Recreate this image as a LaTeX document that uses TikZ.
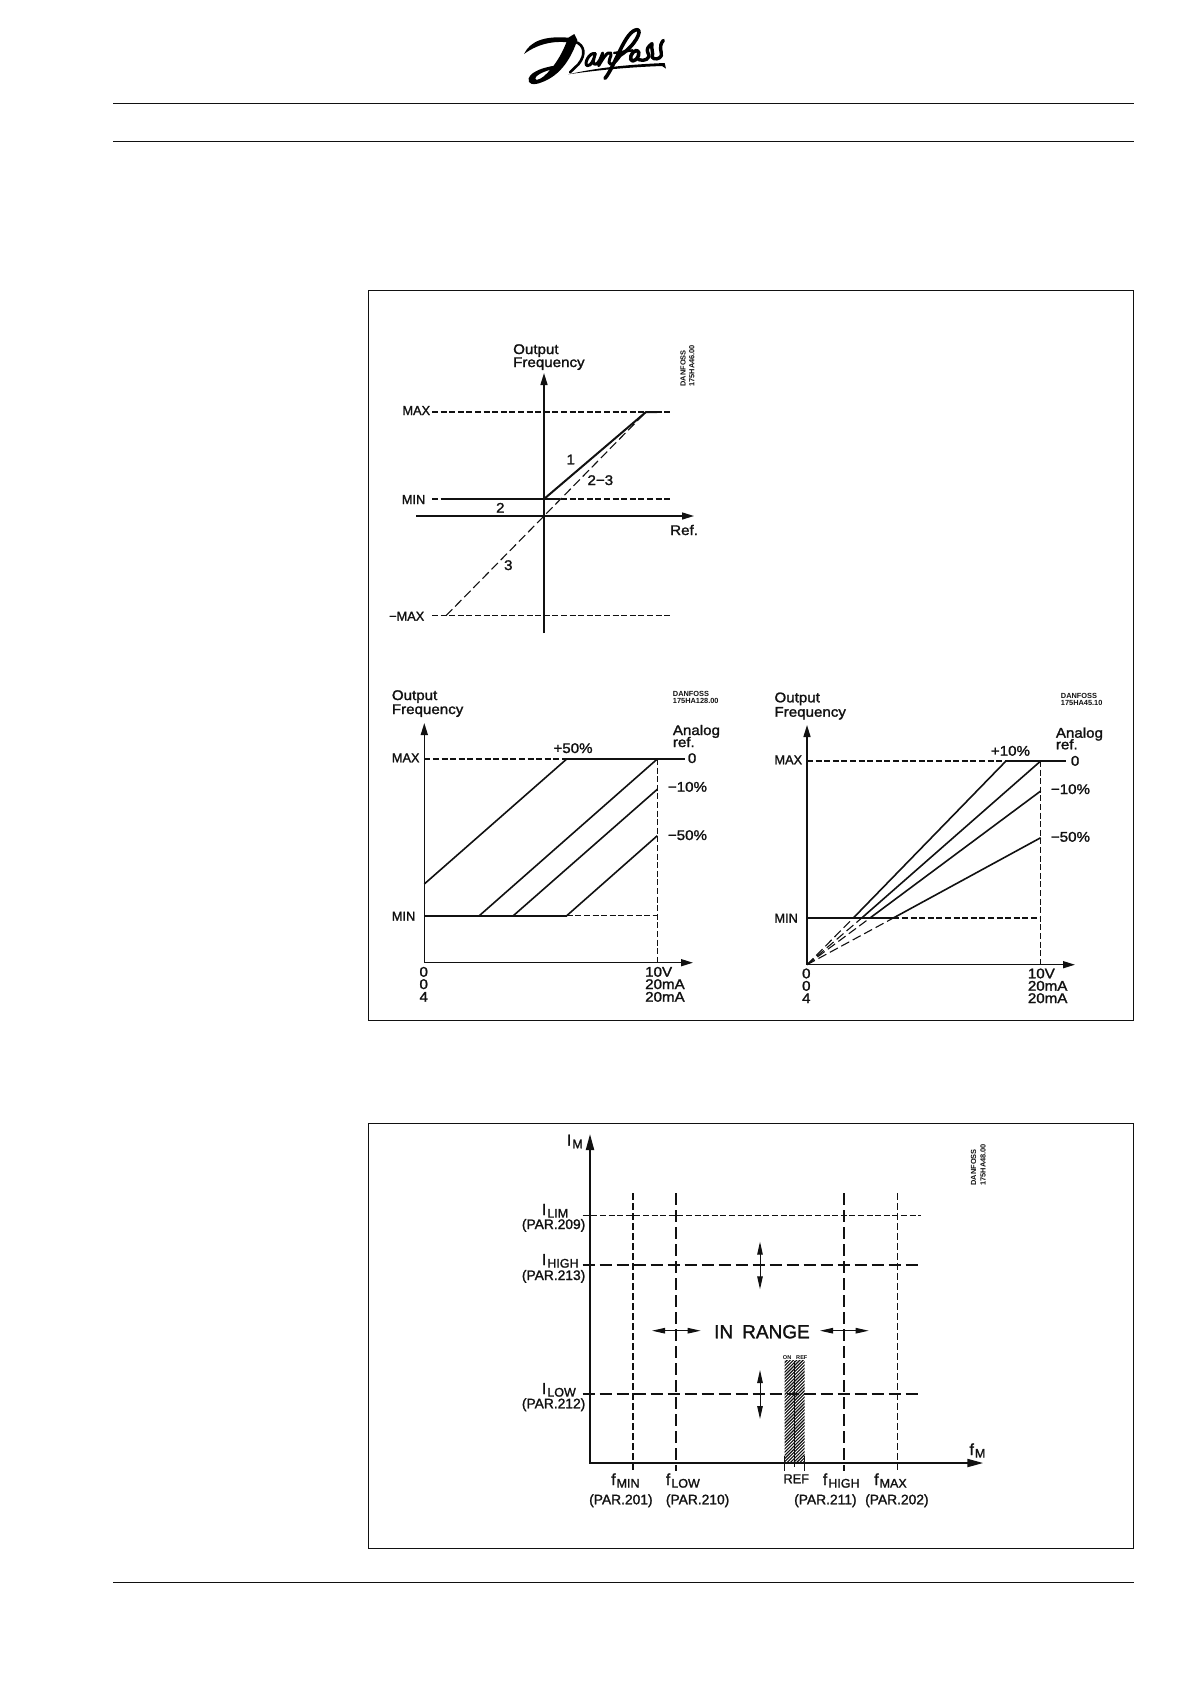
\documentclass[tikz,border=0pt]{standalone}
\usepackage{fontspec}
\usetikzlibrary{arrows.meta}
\newfontfamily\cad[FakeBold=1.5,FakeStretch=1.08]{Liberation Sans}
\newfontfamily\cadu[FakeBold=1.5]{Liberation Sans}
\newfontfamily\cadn[FakeBold=1.5,FakeStretch=0.98]{Liberation Sans}
\newfontfamily\cadb{Liberation Sans Bold}
\newcommand\fz[1]{\fontsize{#1}{#1}\selectfont}
\newcommand\subl[2]{{\fz{16}#1}\kern1pt\raisebox{-2.6pt}{\fz{12.5}#2}}
\definecolor{ink}{HTML}{111111}
\tikzset{
 lab/.style={anchor=base west,inner sep=0pt,text=ink,font=\cad\fz{14}},
 labm/.style={lab,anchor=base,font=\cad\fz{14}},
 up/.style={lab,font=\cadn\fz{13}},
 par/.style={lab,font=\cadu\fz{13.8}},
 sublab/.style={lab,font=\cadu\fz{16}},
 code/.style={lab,font=\cadb\fz{7.4}},
 rcode/.style={code,rotate=90},
 rule/.style={draw=ink,line width=0.9pt},
 ax/.style={draw=ink,line width=1.5pt,-{Stealth[inset=0pt,length=12pt,width=7pt]}},
 thk/.style={draw=ink,line width=2pt},
 sol/.style={draw=ink,line width=1.6pt},
 dsh/.style={draw=ink,line width=1.1pt,dash pattern=on 6pt off 2.6pt},
 dshb/.style={draw=ink,line width=1.5pt,dash pattern=on 6pt off 2.6pt},
 ldsh/.style={draw=ink,line width=1.1pt,dash pattern=on 9pt off 4pt},
 axb/.style={draw=ink,line width=2pt,-{Stealth[inset=0pt,length=16pt,width=8pt]}},
 lng/.style={draw=ink,line width=1.8pt,dash pattern=on 12pt off 5pt},
 sht/.style={draw=ink,line width=1.5pt,dash pattern=on 7pt off 3pt},
 dbl/.style={draw=ink,line width=1pt,{Stealth[inset=0pt,length=13pt,width=5.5pt]}-{Stealth[inset=0pt,length=13pt,width=5.5pt]}},
 logo/.style={draw=black,line cap=round,line join=round}
}
\begin{document}
\begin{tikzpicture}[x=1pt,y=-1pt]
\useasboundingbox[fill=white] (0,0) rectangle (1190,1684);
% page rules
\draw[rule] (113,103) -- (1133.5,103);
\draw[rule] (113,141) -- (1133.5,141);
\draw[rule] (113,1582) -- (1133.5,1582);
\draw[rule] (368.5,290) rectangle (1133,1020);
\draw[rule] (368.5,1123.5) rectangle (1133,1548);
% logo
\begin{scope}[shift={(520,25)},scale=0.33333]
% top swoosh
\fill[black] (12,87) .. controls (30,50) and (70,32) .. (145,38) -- (163,27) -- (172,45) -- (160,54) .. controls (110,46) and (60,52) .. (12,87) -- cycle;
% stem and lower loop
\fill[black] (172,45) .. controls (155,95) and (125,150) .. (65,172) .. controls (40,182) and (22,178) .. (26,160) .. controls (32,140) and (75,123) .. (125,120) -- (125,128) .. controls (85,132) and (48,148) .. (46,160) .. controls (45,167) and (58,165) .. (70,155) .. controls (100,130) and (125,90) .. (140,50) -- cycle;
% bowl
\draw[logo,line width=2.6pt] (165,50) .. controls (195,60) and (198,90) .. (175,118) -- (150,142);
% a n
\draw[logo,line width=3pt] (226,86) .. controls (208,80) and (190,118) .. (202,122) .. controls (214,124) and (222,102) .. (226,86) .. controls (220,105) and (216,118) .. (226,118) .. controls (236,116) and (242,100) .. (248,84) .. controls (244,100) and (240,110) .. (236,122) .. controls (248,102) and (262,78) .. (272,84) .. controls (278,92) and (258,114) .. (272,118) .. controls (282,118) and (292,104) .. (302,90);
% f
\draw[logo,line width=3.6pt] (255,160) .. controls (285,125) and (315,15) .. (352,14) .. controls (368,16) and (345,62) .. (302,90);
\draw[logo,line width=2.4pt] (282,84) -- (338,76);
% o
\draw[logo,line width=3.6pt] (350,76) .. controls (332,78) and (326,108) .. (338,108) .. controls (354,108) and (364,78) .. (350,76);
% s s
\draw[logo,line width=3.4pt] (356,104) .. controls (372,110) and (394,102) .. (384,84) .. controls (378,74) and (384,64) .. (396,56);
\draw[logo,line width=3.4pt] (396,56) .. controls (392,70) and (402,84) .. (396,96) .. controls (402,106) and (420,102) .. (424,92) .. controls (426,78) and (414,66) .. (430,46);
% underline
\fill[black] (145,148) .. controls (240,126) and (340,118) .. (434,114) -- (438,131) -- (426,123) .. controls (340,126) and (240,134) .. (145,148) -- cycle;
\end{scope}

% chart 1
\draw[ax] (416,516) -- (694,516);
\draw[ax] (544,633) -- (544,373);
\draw[dsh] (432,412) -- (672,412);
\draw[dsh] (432,499) -- (672,499);
\draw[dsh] (432,615.7) -- (672,615.7);
\draw[ldsh] (446,615.7) -- (544,516) -- (646,412);
\draw[thk] (445,499) -- (560,499);
\draw[thk] (544,499) -- (646,412) -- (657,412);
\node[lab] (c1o) at (513,354) {Output};
\node[lab] (c1f) at (513,367) {Frequency};
\node[rcode] (c1d) at (685.7,386.7) {DANFOSS};
\node[rcode] (c1n) at (694.3,386.7) {175HA46.00};
\node[up] (c1max) at (402.3,415) {MAX};
\node[up] (c1min) at (401.7,504) {MIN};
\node[up] (c1nmax) at (389,620.7) {−MAX};
\node[labm] (c1a) at (570.7,464.3) {1};
\node[lab] (c1b) at (587.3,485) {2−3};
\node[labm] (c1c) at (500.3,512.7) {2};
\node[labm] (c1e) at (508.3,570) {3};
\node[lab] (c1r) at (670,535) {Ref.};

% chart 2
\draw[dshb] (657.3,759) -- (657.3,963);
\draw[dsh] (566.7,915.7) -- (657.3,915.7);
\draw[dshb] (424.3,759) -- (566.7,759);
\draw[ax] (424.3,963) -- (424.3,723);
\draw[ax] (424.3,962.7) -- (693,962.7);
\draw[thk] (566.7,759) -- (685,759);
\draw[thk] (424.3,915.7) -- (566.7,915.7);
\draw[sol] (424.3,884) -- (566.7,759);
\draw[sol] (479.3,915.7) -- (657.3,759);
\draw[sol] (513.3,915.7) -- (657.3,789.3);
\draw[sol] (566.7,915.7) -- (657.3,835.7);
\node[lab] (c2o) at (391.7,700) {Output};
\node[lab] (c2f) at (391.7,714) {Frequency};
\node[up] (c2max) at (391.7,762.3) {MAX};
\node[up] (c2min) at (391.7,920.7) {MIN};
\node[lab] (c2p) at (553.3,753) {+50\%};
\node[lab] (c2an) at (672.7,735) {Analog};
\node[lab] (c2rf) at (672.7,747) {ref.};
\node[lab] (c2z) at (687.7,763) {0};
\node[lab] (c2m1) at (667.7,791.7) {−10\%};
\node[lab] (c2m5) at (667.7,840) {−50\%};
\node[labm] (c2x0) at (423.7,976.7) {0};
\node[labm] (c2x1) at (423.7,989) {0};
\node[labm] (c2x2) at (423.7,1001.7) {4};
\node[lab] (c2v) at (645,976.7) {10V};
\node[lab] (c2ma) at (645,989) {20mA};
\node[lab] (c2mb) at (645,1001.7) {20mA};
\node[code] (c2d) at (672.7,696) {DANFOSS};
\node[code] (c2n) at (672.7,703.3) {175HA128.00};

% chart 3
\draw[dsh] (1040.7,761) -- (1040.7,964.7);
\draw[dsh] (893.3,918) -- (1040.7,918);
\draw[dsh] (807,761) -- (1006,761);
\draw[ax] (807,964.7) -- (807,725);
\draw[ax] (807,964.7) -- (1075,964.7);
\draw[thk] (1006,761) -- (1066,761);
\draw[thk] (807,918) -- (893.3,918);
\draw[sol] (853.3,918) -- (1006,761);
\draw[sol] (861.7,918) -- (1040.7,761);
\draw[sol] (870,918) -- (1040.7,791);
\draw[sol] (893.3,918) -- (1040.7,837.7);
\draw[ldsh] (807,964.7) -- (853.3,918);
\draw[ldsh] (807,964.7) -- (861.7,918);
\draw[ldsh] (807,964.7) -- (870,918);
\draw[ldsh] (807,964.7) -- (893.3,918);
\node[lab] (c3o) at (774.3,702.3) {Output};
\node[lab] (c3f) at (774.3,716.7) {Frequency};
\node[up] (c3max) at (774.3,764.3) {MAX};
\node[up] (c3min) at (774.3,922.7) {MIN};
\node[lab] (c3p) at (990.7,755.7) {+10\%};
\node[lab] (c3an) at (1055.7,737.7) {Analog};
\node[lab] (c3rf) at (1055.7,749.3) {ref.};
\node[lab] (c3z) at (1070.7,765.7) {0};
\node[lab] (c3m1) at (1050.7,794) {−10\%};
\node[lab] (c3m5) at (1050.7,841.7) {−50\%};
\node[labm] (c3x0) at (806.3,978.3) {0};
\node[labm] (c3x1) at (806.3,990.7) {0};
\node[labm] (c3x2) at (806.3,1003) {4};
\node[lab] (c3v) at (1027.7,978.3) {10V};
\node[lab] (c3ma) at (1027.7,990.7) {20mA};
\node[lab] (c3mb) at (1027.7,1003) {20mA};
\node[code] (c3d) at (1060.7,698.3) {DANFOSS};
\node[code] (c3n) at (1060.7,705.7) {175HA45.10};

% chart 4
\begin{scope}
\clip (784.7,1360.7) rectangle (804.7,1463);
\foreach \k in {0,3.2,...,132} {\draw[ink,line width=1.1pt] (784,1360+\k) -- (806,1338+\k);}
\end{scope}
\draw[ink,line width=0.9pt] (784.7,1456) -- (784.7,1470.7);
\draw[ink,line width=0.9pt] (804.7,1456) -- (804.7,1470.7);
\draw[ink,line width=0.9pt] (794.7,1360.7) -- (794.7,1467);
\draw[dsh] (582.7,1215.3) -- (921,1215.3);
\draw[lng] (582.7,1265) -- (921,1265);
\draw[lng] (582.7,1394) -- (921,1394);
\draw[sht] (633,1193.3) -- (633,1470.7);
\draw[lng] (676,1193.3) -- (676,1470.7);
\draw[lng] (844,1193.3) -- (844,1470.7);
\draw[sht] (897.7,1193.3) -- (897.7,1470.7);
\draw[axb] (590,1463) -- (590,1134);
\draw[axb] (589,1463) -- (983.3,1463);
\draw[dbl] (760,1241.7) -- (760,1289.3);
\draw[dbl] (760,1370) -- (760,1419);
\draw[dbl] (652,1330.7) -- (700.7,1330.7);
\draw[dbl] (820,1330.7) -- (868.7,1330.7);
\node[lab,font=\cadu\fz{19}] (inr) at (714,1338.3) {IN\hspace{9pt}RANGE};
\node[sublab] (im) at (566.7,1145.7) {\subl{I}{M}};
\node[sublab] (ilim) at (541.7,1215) {\subl{I}{LIM}};
\node[par] (p209) at (521.7,1229) {(PAR.209)};
\node[sublab] (ihigh) at (541.7,1265) {\subl{I}{HIGH}};
\node[par] (p213) at (521.7,1280) {(PAR.213)};
\node[sublab] (ilow) at (541.7,1394) {\subl{I}{LOW}};
\node[par] (p212) at (521.7,1408.3) {(PAR.212)};
\node[sublab] (fmin) at (611,1485) {\subl{f}{MIN}};
\node[par] (p201) at (589,1504.3) {(PAR.201)};
\node[sublab] (flow) at (665.7,1485) {\subl{f}{LOW}};
\node[par] (p210) at (665.7,1504.3) {(PAR.210)};
\node[sublab] (fhigh) at (822.7,1485) {\subl{f}{HIGH}};
\node[par] (p211) at (794,1504.3) {(PAR.211)};
\node[sublab] (fmax) at (874,1485) {\subl{f}{MAX}};
\node[par] (p202) at (865,1504.3) {(PAR.202)};
\node[sublab] (fm) at (969.3,1455) {\subl{f}{M}};
\node[up] (refl) at (783.3,1483.3) {REF};
\node[code,font=\cadb\fz{5.6}] (onl) at (782.7,1359.3) {ON};
\node[code,font=\cadb\fz{5.6}] (refs) at (796,1359.3) {REF};
\node[rcode] (c4d) at (976,1185.7) {DANFOSS};
\node[rcode] (c4n) at (985.7,1185.7) {175HA48.00};
\end{tikzpicture}
\end{document}
